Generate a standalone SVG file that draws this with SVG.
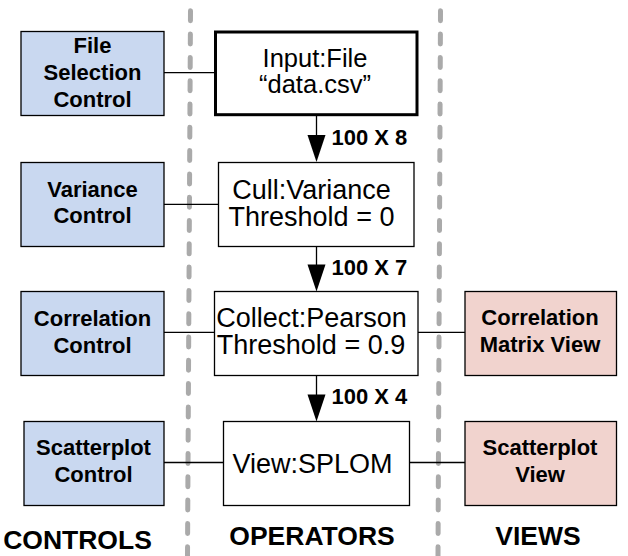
<svg xmlns="http://www.w3.org/2000/svg" width="628" height="556" viewBox="0 0 628 556">
<style>
.ctl{fill:#c9d8f0;stroke:#000;stroke-width:1.3}
.view{fill:#f1d3ce;stroke:#000;stroke-width:1.3}
.op{fill:#fff;stroke:#000;stroke-width:1.3}
.opthick{fill:#fff;stroke:#000;stroke-width:3}
.b{font-family:"Liberation Sans",Arial,Helvetica,sans-serif;font-weight:bold;font-size:22px;fill:#000;text-anchor:middle}
.r{font-family:"Liberation Sans",Arial,Helvetica,sans-serif;font-size:27px;fill:#000;text-anchor:middle}
.lbl{font-family:"Liberation Sans",Arial,Helvetica,sans-serif;font-weight:bold;font-size:22px;fill:#000}
.hdr{font-family:"Liberation Sans",Arial,Helvetica,sans-serif;font-weight:bold;font-size:26.5px;fill:#000;text-anchor:middle}
.dash{stroke:#aaaaaa;stroke-width:5;stroke-linecap:round;stroke-dasharray:10 13.3;fill:none}
.wire{stroke:#000;stroke-width:1.3;fill:none}
.head{fill:#000}
</style>
<rect width="628" height="556" fill="#fff"/>
<g id="separators">
<line class="dash" x1="190.5" y1="10.8" x2="187.5" y2="556"/>
<line class="dash" x1="440.5" y1="10.8" x2="438" y2="556"/>
</g>
<g id="connectors">
<line class="wire" x1="164" y1="72.7" x2="215" y2="72.7"/>
<line class="wire" x1="164" y1="204.3" x2="218.5" y2="204.3"/>
<line class="wire" x1="164" y1="332.3" x2="214.5" y2="332.3"/>
<line class="wire" x1="164" y1="462.5" x2="223.5" y2="462.5"/>
<line class="wire" x1="418" y1="332.3" x2="465" y2="332.3"/>
<line class="wire" x1="409.5" y1="462.5" x2="465" y2="462.5"/>
<line class="wire" x1="316.5" y1="115" x2="316.5" y2="136"/>
<polygon class="head" points="307.5,135 325.5,135 316.5,162"/>
<text class="lbl" x="331.5" y="145">100 X 8</text>
<line class="wire" x1="316.5" y1="246.5" x2="316.5" y2="265"/>
<polygon class="head" points="307.5,264.5 325.5,264.5 316.5,291.5"/>
<text class="lbl" x="331.5" y="275">100 X 7</text>
<line class="wire" x1="316.5" y1="375.5" x2="316.5" y2="395"/>
<polygon class="head" points="307.5,394.5 325.5,394.5 316.5,421.5"/>
<text class="lbl" x="331.5" y="404">100 X 4</text>
</g>
<g id="file-selection-control">
<rect class="ctl" x="21" y="31.5" width="143" height="84"/>
<text class="b" x="92.5" y="53">File</text>
<text class="b" x="92.5" y="80">Selection</text>
<text class="b" x="92.5" y="106.5">Control</text>
</g>
<g id="variance-control">
<rect class="ctl" x="21" y="162.5" width="143" height="84"/>
<text class="b" x="92.5" y="196.5">Variance</text>
<text class="b" x="92.5" y="223">Control</text>
</g>
<g id="correlation-control">
<rect class="ctl" x="21" y="291.5" width="143" height="84"/>
<text class="b" x="92.5" y="326">Correlation</text>
<text class="b" x="92.5" y="353">Control</text>
</g>
<g id="scatterplot-control">
<rect class="ctl" x="24" y="421.5" width="140" height="84"/>
<text class="b" x="93.5" y="455">Scatterplot</text>
<text class="b" x="93.5" y="481.5">Control</text>
</g>
<g id="input-file">
<rect class="opthick" x="215.5" y="32" width="201.5" height="82.7"/>
<text class="r" x="315" y="66.7" style="font-size:25.5px">Input:File</text>
<text class="r" x="315" y="93.3" style="font-size:25.5px">“data.csv”</text>
</g>
<g id="cull-variance">
<rect class="op" x="218.5" y="162.5" width="195.5" height="84"/>
<text class="r" x="311.5" y="198.5">Cull:Variance</text>
<text class="r" x="311.5" y="226">Threshold = 0</text>
</g>
<g id="collect-pearson">
<rect class="op" x="214.5" y="291.5" width="203.5" height="84"/>
<text class="r" x="311.5" y="326.5">Collect:Pearson</text>
<text class="r" x="311" y="354">Threshold = 0.9</text>
</g>
<g id="view-splom">
<rect class="op" x="223.5" y="421.5" width="186" height="84"/>
<text class="r" x="312.5" y="472.5">View:SPLOM</text>
</g>
<g id="correlation-matrix-view">
<rect class="view" x="465" y="291.5" width="151.5" height="84"/>
<text class="b" x="540" y="325">Correlation</text>
<text class="b" x="540" y="352">Matrix View</text>
</g>
<g id="scatterplot-view">
<rect class="view" x="465" y="421.5" width="151.5" height="84"/>
<text class="b" x="540" y="455">Scatterplot</text>
<text class="b" x="540" y="481.5">View</text>
</g>
<g id="headers">
<text class="hdr" x="77.5" y="548.5">CONTROLS</text>
<text class="hdr" x="312" y="545">OPERATORS</text>
<text class="hdr" x="538" y="545">VIEWS</text>
</g>
</svg>
